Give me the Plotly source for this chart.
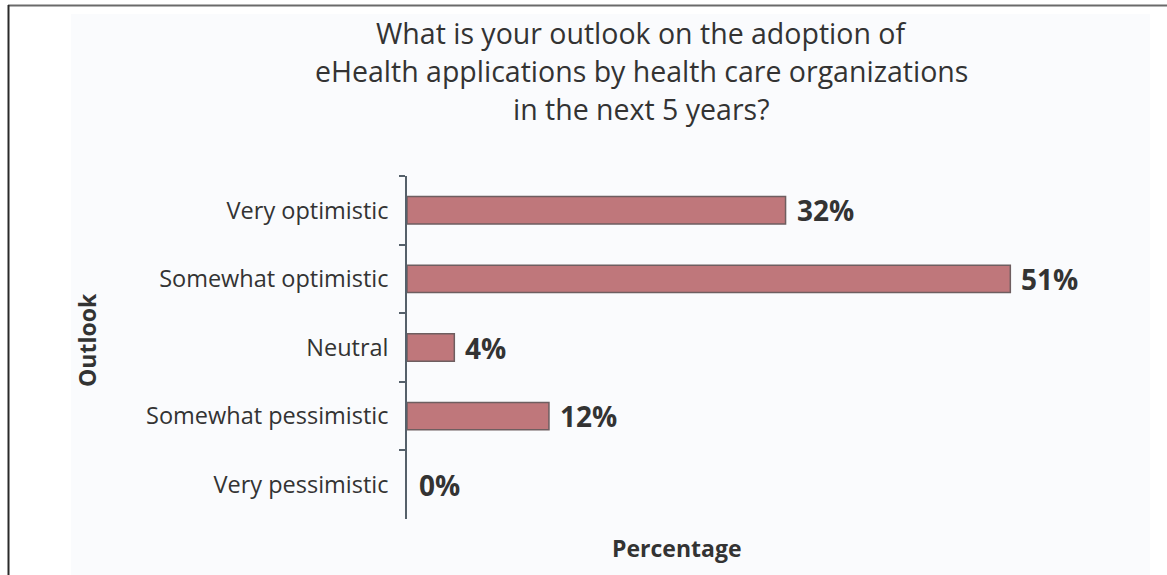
import plotly.graph_objects as go

# Survey responses: outlook on eHealth adoption over the next 5 years
categories = [
    "Very optimistic",
    "Somewhat optimistic",
    "Neutral",
    "Somewhat pessimistic",
    "Very pessimistic",
]
percentages = [32, 51, 4, 12, 0]
value_labels = [f"{v}%" for v in percentages]

title_lines = [
    "What is your outlook on the adoption of",
    "eHealth applications by health care organizations",
    "in the next 5 years?",
]

W, H = 1167, 575
# plot area in pixels
PL, PR, PT, PB = 407, 1150, 176, 519
FONT = "Open Sans"
TEXT = "#333333"


def px_x(p):
    return (p - PL) / (PR - PL)


def px_y(p):
    return (PB - p) / (PB - PT)


# empty bars get no outline so nothing sits on the axis line
outline_widths = [1.5 if v > 0 else 0 for v in percentages]

fig = go.Figure(
    go.Bar(
        x=percentages,
        y=categories,
        orientation="h",
        width=0.4,
        marker=dict(color="#bf777b", line=dict(color="#6e5e60", width=outline_widths)),
        hoverinfo="skip",
    )
)

annotations = []
for cat, val, lab in zip(categories, percentages, value_labels):
    annotations.append(
        dict(
            x=val, y=cat, xref="x", yref="y", text=lab, showarrow=False,
            xanchor="left", yanchor="middle", xshift=9 if val else 10,
            font=dict(family=FONT, size=28, color=TEXT, weight="bold"),
        )
    )

# three title lines, each centred over the chart
for line, cy in zip(title_lines, [33, 71, 109]):
    annotations.append(
        dict(
            x=px_x(641), y=px_y(cy), xref="paper", yref="paper",
            text=line, showarrow=False,
            xanchor="center", yanchor="middle",
            font=dict(family=FONT, size=28.5, color=TEXT),
        )
    )

annotations += [
    dict(
        x=px_x(87), y=px_y(340), xref="paper", yref="paper",
        text="Outlook", showarrow=False, textangle=-90,
        xanchor="center", yanchor="middle",
        font=dict(family=FONT, size=23, color=TEXT, weight="bold"),
    ),
    dict(
        x=px_x(676), y=px_y(548), xref="paper", yref="paper",
        text="Percentage", showarrow=False,
        xanchor="center", yanchor="middle",
        font=dict(family=FONT, size=23, color=TEXT, weight="bold"),
    ),
]

shapes = [
    # light panel behind the chart
    dict(type="rect", xref="paper", yref="paper", layer="below",
         x0=px_x(71), x1=px_x(1150), y0=px_y(575), y1=px_y(14),
         fillcolor="#fafbfd", line=dict(width=0)),
    # frame lines at top and left
    dict(type="line", xref="paper", yref="paper",
         x0=px_x(8), x1=px_x(1167), y0=px_y(5.5), y1=px_y(5.5),
         line=dict(color="#6a6a6a", width=2)),
    dict(type="line", xref="paper", yref="paper",
         x0=px_x(8.5), x1=px_x(8.5), y0=px_y(5), y1=px_y(575),
         line=dict(color="#2a2a2a", width=2)),
]

fig.update_layout(
    width=W, height=H,
    margin=dict(l=PL, r=W - PR, t=PT, b=H - PB, pad=0),
    paper_bgcolor="white",
    plot_bgcolor="rgba(0,0,0,0)",
    showlegend=False,
    annotations=annotations,
    shapes=shapes,
    font=dict(family=FONT, color=TEXT),
)

fig.update_xaxes(
    range=[0, (PR - PL) / 11.83], visible=False, fixedrange=True,
)
fig.update_yaxes(
    type="category",
    categoryorder="array", categoryarray=categories,
    autorange="reversed",
    showline=True, linecolor="#55606a", linewidth=1.5,
    ticks="outside", tickson="boundaries", ticklen=6,
    tickcolor="#55606a", tickwidth=1.5,
    ticklabelstandoff=12,
    tickfont=dict(family=FONT, size=23.5, color=TEXT),
    showgrid=False, zeroline=False, fixedrange=True,
)

fig.write_html("out.html")
